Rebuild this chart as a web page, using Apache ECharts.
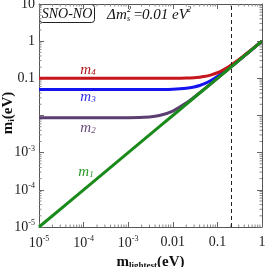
<!DOCTYPE html>
<html><head><meta charset="utf-8">
<script src="https://cdn.jsdelivr.net/npm/echarts@6/dist/echarts.min.js"></script>
<style>html,body{margin:0;padding:0;background:#fff}#c{width:266px;height:267px}</style>
</head><body><div id="c"></div>
<script>
// m_lightest sample points (eV)
const mLightest = [1e-5, 1e-4, 1e-3, 3e-3, 5e-3, 0.01, 0.02, 0.03, 0.04, 0.05, 0.07, 0.1, 0.13, 0.16, 0.2, 0.25, 0.3, 0.4, 0.5, 0.7, 1];
const m1 = [1e-5, 1e-4, 1e-3, 3e-3, 5e-3, 0.01, 0.02, 0.03, 0.04, 0.05, 0.07, 0.1, 0.13, 0.16, 0.2, 0.25, 0.3, 0.4, 0.5, 0.7, 1];
const m2 = [0.00866, 0.00866, 0.00872, 0.00917, 0.0100, 0.0132, 0.0218, 0.0312, 0.0409, 0.0507, 0.0705, 0.1004, 0.1303, 0.1602, 0.2002, 0.2501, 0.3001, 0.4001, 0.5, 0.7, 1];
const m3 = [0.05, 0.05, 0.05, 0.0501, 0.0502, 0.0510, 0.0539, 0.0583, 0.0640, 0.0707, 0.0860, 0.1118, 0.1392, 0.1676, 0.2062, 0.2550, 0.3041, 0.4031, 0.5025, 0.7018, 1.0012];
const m4 = [0.1, 0.1, 0.1, 0.1, 0.1001, 0.1005, 0.1020, 0.1044, 0.1077, 0.1118, 0.1221, 0.1414, 0.1640, 0.1887, 0.2236, 0.2693, 0.3162, 0.4123, 0.5099, 0.7071, 1.005];
const cutoff = [0.2];
const xTicks = [1e-5, 1e-4, 1e-3, 0.01, 0.1, 1];
const yTicks = [1e-5, 1e-4, 1e-3, 0.01, 0.1, 1, 10];
const xTickText = ['10{s|-5}', '10{s|-4}', '10{s|-3}', '0.01', '0.1', '1'];
const yTickText = ['10{s|-5}', '10{s|-4}', '10{s|-3}', '', '0.1', '1', '10'];
const minorMantissa = [2, 3, 4, 5, 6, 7, 8, 9];
const xDecades = [1e-5, 1e-4, 1e-3, 0.01, 0.1];
const yDecades = [1e-5, 1e-4, 1e-3, 0.01, 0.1, 1];
const xMinor = [], yMinor = [];
xDecades.forEach(d => minorMantissa.forEach(k => xMinor.push(k * d)));
yDecades.forEach(d => minorMantissa.forEach(k => yMinor.push(k * d)));

const serif = '"Liberation Serif", "DejaVu Serif", serif';
function pairs(xs, ys){ return xs.map((x,i)=>[x, ys[i]]); }
function lbl(ticks, texts){
  return function(v){
    for (let i=0;i<ticks.length;i++){ if (Math.abs(Math.log10(v)-Math.log10(ticks[i]))<1e-6) return texts[i]; }
    return '';
  };
}
const axisCommon = {
  type: 'log', logBase: 10,
  axisLine: {show: true, lineStyle: {color: '#555', width: 1}},
  axisTick: {show: true, inside: true, length: 5, lineStyle: {color: '#666'}},
  minorTick: {show: false},
  splitLine: {show: false}
};
const tickStyle = {stroke: '#888', lineWidth: 1};
const chart = echarts.init(document.getElementById('c'), null, {renderer: 'canvas'});
chart.setOption({
  animation: false,
  grid: {left: 39, right: 4, top: 4, bottom: 40, containLabel: false, outerBoundsMode: 'none'},
  xAxis: [
    Object.assign({}, axisCommon, {min: 1e-5, max: 1, position: 'bottom',
      name: 'm{sub|lightest}(eV)', nameLocation: 'middle', nameGap: 18,
      nameTextStyle: {fontFamily: serif, fontWeight: 'bold', fontSize: 15, color: '#111',
        rich: {sub: {fontFamily: serif, fontWeight: 'bold', fontSize: 9, color: '#111', padding: [7,0,0,0]}}},
      axisLabel: {show: true, margin: 8, showMinLabel: true, showMaxLabel: true, fontFamily: serif, fontSize: 14, color: '#222', formatter: lbl(xTicks, xTickText),
        rich: {s: {fontFamily: serif, fontSize: 8, color: '#222', padding: [0,0,8,0]}}}}),
    Object.assign({}, axisCommon, {min: 1e-5, max: 1, position: 'top', axisLabel: {show: false}})
  ],
  yAxis: [
    Object.assign({}, axisCommon, {min: 1e-5, max: 10, position: 'left',
      axisLabel: {show: true, margin: 4, showMinLabel: true, showMaxLabel: true, fontFamily: serif, fontSize: 14, color: '#222', formatter: lbl(yTicks, yTickText),
        rich: {s: {fontFamily: serif, fontSize: 8, color: '#222', padding: [0,0,8,0]}}}}),
    Object.assign({}, axisCommon, {min: 1e-5, max: 10, position: 'right', axisLabel: {show: false}})
  ],
  series: [
    {type: 'custom', name: 'xminor', silent: true, clip: false, z: 1,
      data: xMinor.map(v => [v, 1e-5]),
      renderItem: function(params, api){
        const b = api.coord([api.value(0), 1e-5]);
        const t = api.coord([api.value(0), 10]);
        return {type: 'group', children: [
          {type: 'line', shape: {x1: b[0], y1: b[1], x2: b[0], y2: b[1] - 2.5}, style: tickStyle},
          {type: 'line', shape: {x1: t[0], y1: t[1], x2: t[0], y2: t[1] + 2.5}, style: tickStyle}
        ]};
      }},
    {type: 'custom', name: 'yminor', silent: true, clip: false, z: 1,
      data: yMinor.map(v => [1e-5, v]),
      renderItem: function(params, api){
        const l = api.coord([1e-5, api.value(1)]);
        const r = api.coord([1, api.value(1)]);
        return {type: 'group', children: [
          {type: 'line', shape: {x1: l[0], y1: l[1], x2: l[0] + 2.5, y2: l[1]}, style: tickStyle},
          {type: 'line', shape: {x1: r[0], y1: r[1], x2: r[0] - 2.5, y2: r[1]}, style: tickStyle}
        ]};
      }},
    {type: 'line', name: 'm2', data: pairs(mLightest, m2), smooth: 0.3, showSymbol: false,
      lineStyle: {color: '#5c3f70', width: 3}, z: 2},
    {type: 'line', name: 'm3', data: pairs(mLightest, m3), smooth: 0.3, showSymbol: false,
      lineStyle: {color: '#1414f0', width: 3}, z: 3},
    {type: 'line', name: 'm4', data: pairs(mLightest, m4), smooth: 0.3, showSymbol: false,
      lineStyle: {color: '#c4161c', width: 3}, z: 4},
    {type: 'line', name: 'm1', data: pairs(mLightest, m1), showSymbol: false,
      lineStyle: {color: '#1a8a1a', width: 3}, z: 5,
      markLine: {silent: true, symbol: 'none', label: {show: false},
        lineStyle: {color: '#222', type: [4, 3], width: 1},
        data: cutoff.map(v => ({xAxis: v}))}}
  ],
  graphic: [
    {type: 'text', x: 8, y: 113, rotation: Math.PI / 2, style: {text: 'm{sub|i}(eV)', fontFamily: serif, fontWeight: 'bold', fontSize: 15, fill: '#111', align: 'center', verticalAlign: 'middle',
      rich: {sub: {fontFamily: serif, fontWeight: 'bold', fontSize: 9, fill: '#111', padding: [7,0,0,0]}}}},
    {type: 'rect', shape: {x: 39.5, y: 4.5, width: 55, height: 18, r: 3}, style: {fill: 'none', stroke: '#222', lineWidth: 1}},
    {type: 'text', x: 67, y: 14, style: {text: 'SNO-NO', fontFamily: serif, fontStyle: 'italic', fontSize: 14, fill: '#111', align: 'center', verticalAlign: 'middle'}},
    {type: 'text', x: 107, y: 15, style: {text: 'Δ', fontFamily: serif, fontStyle: 'italic', fontSize: 15, fill: '#111', align: 'left', verticalAlign: 'middle'}},
    {type: 'text', x: 116, y: 15, style: {text: 'm', fontFamily: serif, fontStyle: 'italic', fontSize: 15, fill: '#111', align: 'left', verticalAlign: 'middle'}},
    {type: 'text', x: 127, y: 10, style: {text: '2', fontFamily: serif, fontStyle: 'italic', fontSize: 8, fill: '#111', align: 'left', verticalAlign: 'middle'}},
    {type: 'text', x: 127, y: 19, style: {text: 's', fontFamily: serif, fontStyle: 'italic', fontSize: 8, fill: '#111', align: 'left', verticalAlign: 'middle'}},
    {type: 'text', x: 133, y: 15, style: {text: '=', fontFamily: serif, fontStyle: 'italic', fontSize: 15, fill: '#111', align: 'left', verticalAlign: 'middle'}},
    {type: 'text', x: 142, y: 15, style: {text: '0.01', fontFamily: serif, fontStyle: 'italic', fontSize: 15, fill: '#111', align: 'left', verticalAlign: 'middle'}},
    {type: 'text', x: 172, y: 15, style: {text: 'eV', fontFamily: serif, fontStyle: 'italic', fontSize: 15, fill: '#111', align: 'left', verticalAlign: 'middle'}},
    {type: 'text', x: 187, y: 10, style: {text: '2', fontFamily: serif, fontStyle: 'italic', fontSize: 8, fill: '#111', align: 'left', verticalAlign: 'middle'}},
    {type: 'text', x: 88, y: 70, style: {text: 'm{s|4}', fontFamily: serif, fontStyle: 'italic', fontSize: 15, fill: '#b01a1e', align: 'center', verticalAlign: 'middle', rich: {s: {fontFamily: serif, fontStyle: 'italic', fontSize: 9, fill: '#b01a1e', padding: [6,0,0,0]}}}},
    {type: 'text', x: 88, y: 97, style: {text: 'm{s|3}', fontFamily: serif, fontStyle: 'italic', fontSize: 15, fill: '#3030e8', align: 'center', verticalAlign: 'middle', rich: {s: {fontFamily: serif, fontStyle: 'italic', fontSize: 9, fill: '#3030e8', padding: [6,0,0,0]}}}},
    {type: 'text', x: 88, y: 128, style: {text: 'm{s|2}', fontFamily: serif, fontStyle: 'italic', fontSize: 15, fill: '#6a4e7c', align: 'center', verticalAlign: 'middle', rich: {s: {fontFamily: serif, fontStyle: 'italic', fontSize: 9, fill: '#6a4e7c', padding: [6,0,0,0]}}}},
    {type: 'text', x: 86, y: 172, style: {text: 'm{s|1}', fontFamily: serif, fontStyle: 'italic', fontSize: 15, fill: '#2a9a2a', align: 'center', verticalAlign: 'middle', rich: {s: {fontFamily: serif, fontStyle: 'italic', fontSize: 9, fill: '#2a9a2a', padding: [6,0,0,0]}}}}
  ]
});
</script></body></html>
